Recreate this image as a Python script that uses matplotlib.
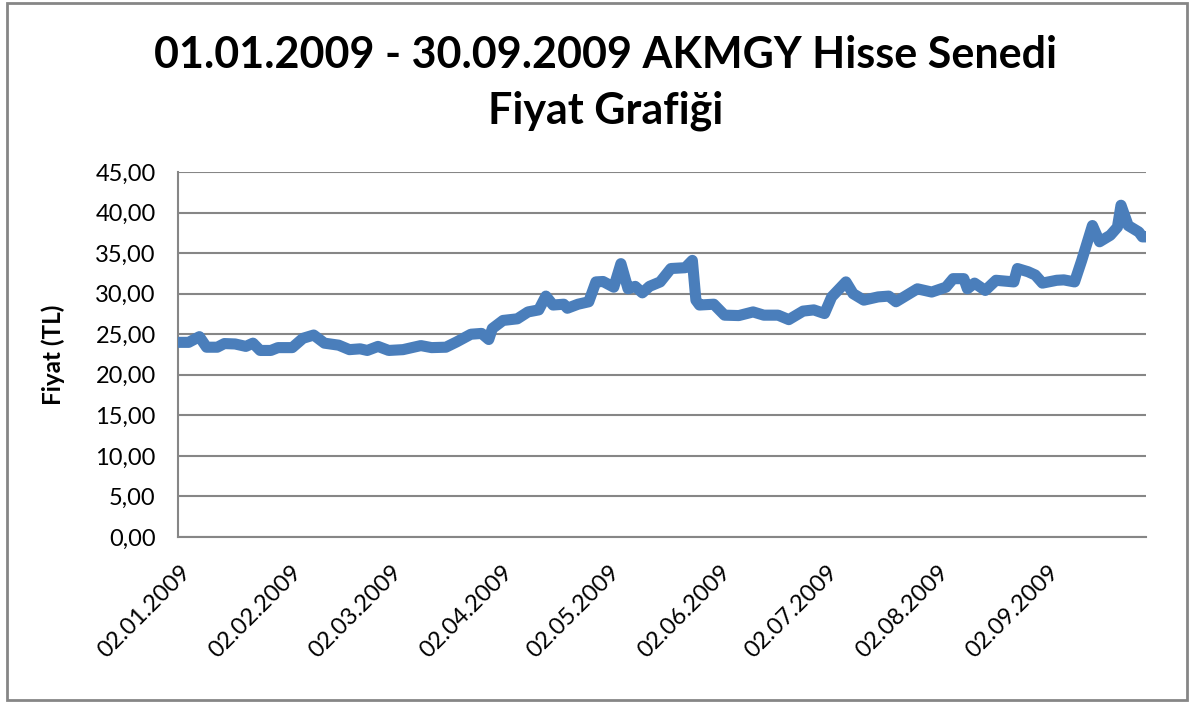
import matplotlib
matplotlib.use('Agg')
import matplotlib.pyplot as plt
from matplotlib.patches import Rectangle
import pandas as pd

# AKMGY closing prices (TL)
dates = [
    '2009-01-02', '2009-01-05', '2009-01-08', '2009-01-10', '2009-01-13', '2009-01-15',
    '2009-01-18', '2009-01-21', '2009-01-23', '2009-01-25', '2009-01-28', '2009-01-30',
    '2009-02-03', '2009-02-06', '2009-02-09', '2009-02-12', '2009-02-16', '2009-02-19',
    '2009-02-22', '2009-02-24', '2009-02-27', '2009-03-02', '2009-03-06', '2009-03-11',
    '2009-03-14', '2009-03-18', '2009-03-21', '2009-03-25', '2009-03-28', '2009-03-30',
    '2009-03-31', '2009-04-03', '2009-04-07', '2009-04-10', '2009-04-13', '2009-04-15',
    '2009-04-17', '2009-04-20', '2009-04-21', '2009-04-24', '2009-04-27', '2009-04-29',
    '2009-05-01', '2009-05-04', '2009-05-06', '2009-05-08', '2009-05-10', '2009-05-12',
    '2009-05-14', '2009-05-17', '2009-05-20', '2009-05-24', '2009-05-26', '2009-05-27',
    '2009-05-28', '2009-06-01', '2009-06-04', '2009-06-08', '2009-06-12', '2009-06-15',
    '2009-06-19', '2009-06-22', '2009-06-26', '2009-06-29', '2009-07-02', '2009-07-04',
    '2009-07-08', '2009-07-10', '2009-07-13', '2009-07-17', '2009-07-20', '2009-07-22',
    '2009-07-25', '2009-07-28', '2009-08-01', '2009-08-05', '2009-08-07', '2009-08-10',
    '2009-08-11', '2009-08-13', '2009-08-16', '2009-08-19', '2009-08-24', '2009-08-25',
    '2009-08-28', '2009-08-30', '2009-09-01', '2009-09-05', '2009-09-07', '2009-09-10',
    '2009-09-12', '2009-09-15', '2009-09-17', '2009-09-20', '2009-09-22', '2009-09-23',
    '2009-09-25', '2009-09-28', '2009-09-29', '2009-09-30',
]
prices = [
    24.0, 24.0, 24.7, 23.4, 23.4, 23.85,
    23.8, 23.5, 23.9, 23.0, 23.0, 23.35,
    23.35, 24.5, 24.9, 23.9, 23.65, 23.1,
    23.2, 23.0, 23.5, 23.0, 23.1, 23.6,
    23.35, 23.4, 24.05, 25.0, 25.1, 24.35,
    25.7, 26.7, 26.9, 27.75, 28.0, 29.7,
    28.6, 28.7, 28.2, 28.7, 29.0, 31.45,
    31.5, 30.8, 33.7, 30.6, 30.9, 30.1,
    30.9, 31.45, 33.1, 33.2, 34.1, 29.2,
    28.6, 28.7, 27.35, 27.3, 27.75, 27.35,
    27.35, 26.8, 27.85, 28.0, 27.55, 29.6,
    31.45, 30.0, 29.2, 29.6, 29.7, 29.0,
    29.8, 30.6, 30.2, 30.8, 31.85, 31.85,
    30.6, 31.3, 30.4, 31.65, 31.45, 33.1,
    32.7, 32.3, 31.3, 31.65, 31.7, 31.45,
    34.1, 38.4, 36.4, 37.2, 38.2, 40.9,
    38.4, 37.6, 37.0, 37.0,
]
tick_dates = ['2009-01-02', '2009-02-02', '2009-03-02', '2009-04-02', '2009-05-02',
              '2009-06-02', '2009-07-02', '2009-08-02', '2009-09-02']
yticks = [0, 5, 10, 15, 20, 25, 30, 35, 40, 45]

title = '01.01.2009 - 30.09.2009 AKMGY Hisse Senedi\nFiyat Grafiği'
ylabel = 'Fiyat (TL)'

plt.rcParams['font.family'] = ['Lato', 'DejaVu Sans']

x = pd.to_datetime(dates)
xt = pd.to_datetime(tick_dates)

fig = plt.figure(figsize=(11.96, 7.02), dpi=100)
ax = fig.add_axes([0.1488, 0.235, 0.8094, 0.52])

ax.plot(x, prices, color='#4A7EBB', lw=8, solid_capstyle='round', solid_joinstyle='round', zorder=3)

ax.set_xlim(pd.Timestamp('2009-01-02'), pd.Timestamp('2009-09-30'))
ax.set_ylim(0, 45)
ax.set_yticks(yticks)
ax.set_yticklabels([f'{v:.2f}'.replace('.', ',') for v in yticks], fontsize=17)
ax.set_xticks(xt)
ax.set_xticklabels([])

# slanted date labels, pushed down/right like the excel original
for d in xt:
    ax.annotate(d.strftime('%d.%m.%Y'), xy=(d, 0), xycoords=('data', 'axes fraction'),
                xytext=(7, -23), textcoords='offset points', fontsize=17,
                rotation=45, ha='right', va='center', rotation_mode='anchor',
                annotation_clip=False)

ax.tick_params(axis='both', length=0)
ax.tick_params(axis='y', pad=16)
ax.grid(axis='y', color='#868686', lw=1.5)
ax.set_axisbelow(True)
for s in ['top', 'right']:
    ax.spines[s].set_visible(False)
for s in ['left', 'bottom']:
    ax.spines[s].set_color('#868686')
    ax.spines[s].set_linewidth(1.5)

ax.set_ylabel(ylabel, fontsize=17.5, fontweight='bold')
ax.yaxis.set_label_coords(-0.117, 0.5)

fig.text(0.506, 0.882, title, ha='center', va='center', fontsize=31,
         fontweight='bold', linespacing=1.46)

fig.patches.append(Rectangle((7 / 1196, 2 / 702), 1180 / 1196, 697 / 702,
                             transform=fig.transFigure, fill=False,
                             edgecolor='#868686', lw=2))

fig.savefig('out.png', dpi=100)
